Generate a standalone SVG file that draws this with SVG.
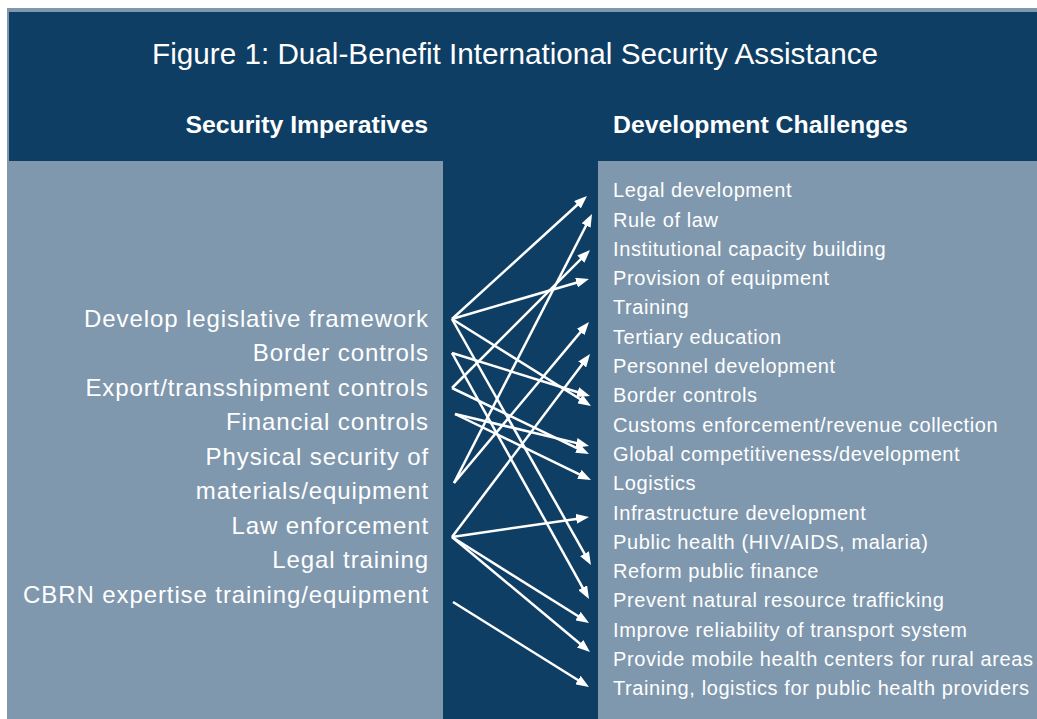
<svg xmlns="http://www.w3.org/2000/svg" width="1037" height="719" viewBox="0 0 1037 719">
  <defs>
    <style>
      .bg-gray { fill: #7f98ae; }
      .bg-dark { fill: #0e3e64; }
      .title { font-family: "Liberation Sans", Arial, sans-serif; font-size: 29.7px; fill: #ffffff; }
      .head { font-family: "Liberation Sans", Arial, sans-serif; font-size: 24.8px; font-weight: bold; fill: #ffffff; }
      .left { font-family: "Liberation Sans", Arial, sans-serif; font-size: 24px; letter-spacing: 0.9px; fill: #ffffff; text-anchor: end; }
      .right { font-family: "Liberation Sans", Arial, sans-serif; font-size: 20px; letter-spacing: 0.6px; fill: #ffffff; }
      .conn line { stroke: #ffffff; stroke-width: 2.5; fill: none; marker-end: url(#ah); }
    </style>
    <marker id="ah" markerUnits="userSpaceOnUse" markerWidth="13" markerHeight="10" viewBox="0 0 13 10" refX="7" refY="5" orient="auto">
      <path d="M0,0 L13,5 L0,10 z" fill="#ffffff"/>
    </marker>
  </defs>

  <rect x="0" y="0" width="1037" height="719" fill="#ffffff"/>
  <rect class="bg-gray" x="7" y="8" width="1030" height="711"/>
  <rect class="bg-dark" x="9" y="12" width="1028" height="149"/>
  <rect class="bg-dark" x="443" y="160" width="155" height="559"/>

  <g id="title">
    <text class="title" x="152" y="64">Figure 1: Dual-Benefit International Security Assistance</text>
  </g>
  <g id="header-security">
    <text class="head" x="428" y="133" text-anchor="end">Security Imperatives</text>
  </g>
  <g id="header-development">
    <text class="head" x="613" y="133">Development Challenges</text>
  </g>

  <g id="security-imperatives">
    <g id="s1"><text class="left" x="429" y="326.5">Develop legislative framework</text></g>
    <g id="s2"><text class="left" x="429" y="361">Border controls</text></g>
    <g id="s3"><text class="left" x="429" y="395.6">Export/transshipment controls</text></g>
    <g id="s4"><text class="left" x="429" y="430.2">Financial controls</text></g>
    <g id="s5"><text class="left" x="429" y="464.7">Physical security of</text><text class="left" x="429" y="499.3">materials/equipment</text></g>
    <g id="s6"><text class="left" x="429" y="533.9">Law enforcement</text></g>
    <g id="s7"><text class="left" x="429" y="568.4">Legal training</text></g>
    <g id="s8"><text class="left" x="429" y="603">CBRN expertise training/equipment</text></g>
  </g>

  <g id="development-challenges">
    <g id="d1"><text class="right" x="613" y="197.2">Legal development</text></g>
    <g id="d2"><text class="right" x="613" y="226.5">Rule of law</text></g>
    <g id="d3"><text class="right" x="613" y="255.8">Institutional capacity building</text></g>
    <g id="d4"><text class="right" x="613" y="285.1">Provision of equipment</text></g>
    <g id="d5"><text class="right" x="613" y="314.4">Training</text></g>
    <g id="d6"><text class="right" x="613" y="343.7">Tertiary education</text></g>
    <g id="d7"><text class="right" x="613" y="373">Personnel development</text></g>
    <g id="d8"><text class="right" x="613" y="402.3">Border controls</text></g>
    <g id="d9"><text class="right" x="613" y="431.6">Customs enforcement/revenue collection</text></g>
    <g id="d10"><text class="right" x="613" y="460.9">Global competitiveness/development</text></g>
    <g id="d11"><text class="right" x="613" y="490.2">Logistics</text></g>
    <g id="d12"><text class="right" x="613" y="519.5">Infrastructure development</text></g>
    <g id="d13"><text class="right" x="613" y="548.8">Public health (HIV/AIDS, malaria)</text></g>
    <g id="d14"><text class="right" x="613" y="578.1">Reform public finance</text></g>
    <g id="d15"><text class="right" x="613" y="607.4">Prevent natural resource trafficking</text></g>
    <g id="d16"><text class="right" x="613" y="636.7">Improve reliability of transport system</text></g>
    <g id="d17"><text class="right" x="613" y="666">Provide mobile health centers for rural areas</text></g>
    <g id="d18"><text class="right" x="613" y="695.3">Training, logistics for public health providers</text></g>
  </g>

  <g id="connectors" class="conn">
    <line x1="452" y1="319" x2="582.6" y2="200.0"/>
    <line x1="452" y1="319" x2="583.2" y2="280.7"/>
    <line x1="452" y1="319" x2="585.9" y2="402.8"/>
    <line x1="452" y1="319" x2="588.0" y2="559.8"/>
    <line x1="452" y1="353" x2="584.3" y2="394.2"/>
    <line x1="452" y1="353" x2="586.1" y2="593.8"/>
    <line x1="452" y1="388" x2="585.8" y2="254.2"/>
    <line x1="452" y1="388" x2="583.6" y2="451.4"/>
    <line x1="455" y1="414" x2="583.2" y2="444.6"/>
    <line x1="455" y1="414" x2="585.6" y2="477.4"/>
    <line x1="454" y1="483" x2="589.3" y2="219.3"/>
    <line x1="454" y1="483" x2="585.1" y2="326.6"/>
    <line x1="452" y1="537" x2="586.4" y2="358.8"/>
    <line x1="452" y1="537" x2="583.1" y2="517.9"/>
    <line x1="452" y1="537" x2="583.9" y2="619.8"/>
    <line x1="452" y1="537" x2="585.4" y2="648.2"/>
    <line x1="453" y1="602" x2="583.9" y2="683.8"/>
  </g>
</svg>
